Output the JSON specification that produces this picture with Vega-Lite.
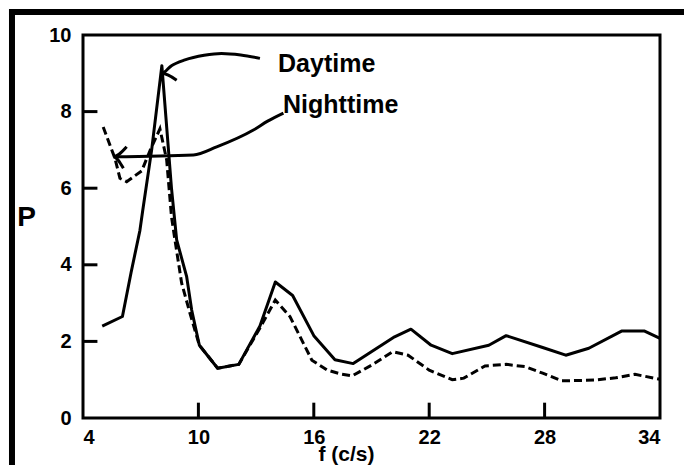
{
  "$schema": "https://vega.github.io/schema/vega-lite/v6.json",
  "width": 577,
  "height": 383,
  "autosize": "none",
  "padding": {"left": 83, "top": 35, "right": 24, "bottom": 47},
  "background": "white",
  "config": {
    "view": {"stroke": "black", "strokeWidth": 3},
    "font": "Liberation Sans"
  },
  "datasets": {
    "day": [
      {"f": 5.0, "P": 2.4}, {"f": 6.05, "P": 2.65}, {"f": 6.5, "P": 3.8}, {"f": 6.96, "P": 4.9},
      {"f": 7.1, "P": 5.4}, {"f": 7.57, "P": 7.0}, {"f": 8.1, "P": 9.2}, {"f": 8.6, "P": 6.0},
      {"f": 8.87, "P": 4.65}, {"f": 9.39, "P": 3.69}, {"f": 9.65, "P": 2.82}, {"f": 10.05, "P": 1.9},
      {"f": 11.0, "P": 1.3}, {"f": 12.1, "P": 1.4}, {"f": 13.2, "P": 2.4}, {"f": 14.0, "P": 3.55},
      {"f": 14.9, "P": 3.2}, {"f": 16.0, "P": 2.15}, {"f": 17.1, "P": 1.52}, {"f": 18.05, "P": 1.42},
      {"f": 20.2, "P": 2.12}, {"f": 21.05, "P": 2.32}, {"f": 22.1, "P": 1.9}, {"f": 23.2, "P": 1.68},
      {"f": 25.1, "P": 1.9}, {"f": 26.0, "P": 2.15}, {"f": 27.9, "P": 1.84}, {"f": 29.1, "P": 1.64},
      {"f": 30.3, "P": 1.82}, {"f": 32.0, "P": 2.27}, {"f": 33.2, "P": 2.27}, {"f": 34.0, "P": 2.08}
    ],
    "night": [
      {"f": 5.05, "P": 7.6}, {"f": 5.66, "P": 6.78}, {"f": 5.92, "P": 6.26}, {"f": 6.27, "P": 6.17},
      {"f": 7.05, "P": 6.45}, {"f": 7.5, "P": 7.0}, {"f": 8.0, "P": 7.55}, {"f": 8.35, "P": 6.74},
      {"f": 8.6, "P": 5.26}, {"f": 8.78, "P": 4.65}, {"f": 9.13, "P": 3.52}, {"f": 9.56, "P": 2.74},
      {"f": 10.05, "P": 1.9}, {"f": 11.0, "P": 1.3}, {"f": 12.1, "P": 1.4}, {"f": 13.2, "P": 2.35},
      {"f": 14.0, "P": 3.08}, {"f": 14.76, "P": 2.65}, {"f": 15.9, "P": 1.51}, {"f": 16.7, "P": 1.25},
      {"f": 17.4, "P": 1.15}, {"f": 18.0, "P": 1.1}, {"f": 19.0, "P": 1.38}, {"f": 20.1, "P": 1.73},
      {"f": 20.9, "P": 1.64}, {"f": 22.0, "P": 1.25}, {"f": 23.2, "P": 1.0}, {"f": 23.8, "P": 1.04},
      {"f": 24.9, "P": 1.36}, {"f": 26.0, "P": 1.4}, {"f": 27.0, "P": 1.34}, {"f": 27.9, "P": 1.17},
      {"f": 28.9, "P": 0.97}, {"f": 30.6, "P": 0.99}, {"f": 31.7, "P": 1.05}, {"f": 32.7, "P": 1.14},
      {"f": 34.0, "P": 1.01}
    ],
    "arrows": [
      {"id": "d", "i": 0, "f": 13.2, "P": 9.39}, {"id": "d", "i": 1, "f": 12.2, "P": 9.48},
      {"id": "d", "i": 2, "f": 11.2, "P": 9.52}, {"id": "d", "i": 3, "f": 10.3, "P": 9.47},
      {"id": "d", "i": 4, "f": 9.3, "P": 9.35}, {"id": "d", "i": 5, "f": 8.6, "P": 9.2},
      {"id": "d", "i": 6, "f": 8.1, "P": 9.0}, {"id": "d", "i": 7, "f": 8.87, "P": 8.82},
      {"id": "n", "i": 0, "f": 14.42, "P": 7.96}, {"id": "n", "i": 1, "f": 13.6, "P": 7.75},
      {"id": "n", "i": 2, "f": 12.86, "P": 7.52}, {"id": "n", "i": 3, "f": 10.95, "P": 7.08},
      {"id": "n", "i": 4, "f": 9.74, "P": 6.87}, {"id": "n", "i": 5, "f": 5.58, "P": 6.82},
      {"id": "nh", "i": 0, "f": 6.27, "P": 7.08}, {"id": "nh", "i": 1, "f": 5.58, "P": 6.82},
      {"id": "nh", "i": 2, "f": 6.1, "P": 6.52}
    ],
    "labels": [
      {"t": "Daytime", "f": 14.14, "P": 9.04},
      {"t": "Nighttime", "f": 14.4, "P": 7.96}
    ],
    "tickmarks": [
      {"id": "x10", "f": 10, "P": 0}, {"id": "x10", "f": 10, "P": 0.4},
      {"id": "x16", "f": 16, "P": 0}, {"id": "x16", "f": 16, "P": 0.4},
      {"id": "x22", "f": 22, "P": 0}, {"id": "x22", "f": 22, "P": 0.4},
      {"id": "x28", "f": 28, "P": 0}, {"id": "x28", "f": 28, "P": 0.4},
      {"id": "y2", "f": 4, "P": 2}, {"id": "y2", "f": 4.75, "P": 2},
      {"id": "y4", "f": 4, "P": 4}, {"id": "y4", "f": 4.75, "P": 4},
      {"id": "y6", "f": 4, "P": 6}, {"id": "y6", "f": 4.75, "P": 6},
      {"id": "y8", "f": 4, "P": 8}, {"id": "y8", "f": 4.75, "P": 8}
    ],
    "frame": [
      {"f": 0.152, "f2": 36, "P": 10.6, "P2": 10.6},
      {"f": 0.308, "f2": 0.308, "P": 10.68, "P2": -1.4}
    ]
  },
  "layer": [
    {
      "data": {"name": "day"},
      "mark": {"type": "line", "color": "black", "strokeWidth": 3, "strokeJoin": "round"},
      "encoding": {
        "x": {"field": "f", "type": "quantitative", "scale": {"domain": [4, 34], "nice": false, "zero": false},
          "axis": {"values": [4, 10, 16, 22, 28, 34], "domain": false, "grid": false, "ticks": false,
            "labelColor": "black", "labelFont": "Liberation Sans", "labelFontWeight": "bold", "labelFontSize": 20, "labelPadding": 9,
            "title": "f (c/s)", "titleFont": "Liberation Sans", "titleFontWeight": "bold", "titleColor": "black", "titleFontSize": 21,
            "titleX": 263, "titleY": 42, "titleBaseline": "alphabetic", "titleAnchor": "middle", "titleAlign": "center"}},
        "y": {"field": "P", "type": "quantitative", "scale": {"domain": [0, 10], "nice": false},
          "axis": {"values": [0, 2, 4, 6, 8, 10], "domain": false, "grid": false, "ticks": false,
            "labelColor": "black", "labelFont": "Liberation Sans", "labelFontWeight": "bold", "labelFontSize": 20, "labelPadding": 12,
            "title": "P", "titleFont": "Liberation Sans", "titleFontWeight": "bold", "titleColor": "black", "titleFontSize": 28, "titleAngle": 0,
            "titleX": -57, "titleY": 182, "titleBaseline": "middle", "titleAlign": "center"}}
      }
    },
    {
      "data": {"name": "night"},
      "mark": {"type": "line", "color": "black", "strokeWidth": 3, "strokeDash": [8, 4]},
      "encoding": {
        "x": {"field": "f", "type": "quantitative"},
        "y": {"field": "P", "type": "quantitative"}
      }
    },
    {
      "data": {"name": "arrows"},
      "mark": {"type": "line", "color": "black", "strokeWidth": 3, "interpolate": "monotone"},
      "encoding": {
        "x": {"field": "f", "type": "quantitative"},
        "y": {"field": "P", "type": "quantitative"},
        "detail": {"field": "id"},
        "order": {"field": "i"}
      }
    },
    {
      "data": {"name": "tickmarks"},
      "mark": {"type": "line", "color": "black", "strokeWidth": 3, "strokeCap": "butt"},
      "encoding": {
        "x": {"field": "f", "type": "quantitative"},
        "y": {"field": "P", "type": "quantitative"},
        "detail": {"field": "id"}
      }
    },
    {
      "data": {"name": "labels"},
      "mark": {"type": "text", "align": "left", "baseline": "alphabetic", "fontSize": 25, "fontWeight": "bold", "font": "Liberation Sans", "color": "black"},
      "encoding": {
        "x": {"field": "f", "type": "quantitative"},
        "y": {"field": "P", "type": "quantitative"},
        "text": {"field": "t"}
      }
    },
    {
      "data": {"name": "frame"},
      "mark": {"type": "rule", "color": "black", "strokeWidth": 6},
      "encoding": {
        "x": {"field": "f", "type": "quantitative"},
        "x2": {"field": "f2"},
        "y": {"field": "P", "type": "quantitative"},
        "y2": {"field": "P2"}
      }
    }
  ]
}
